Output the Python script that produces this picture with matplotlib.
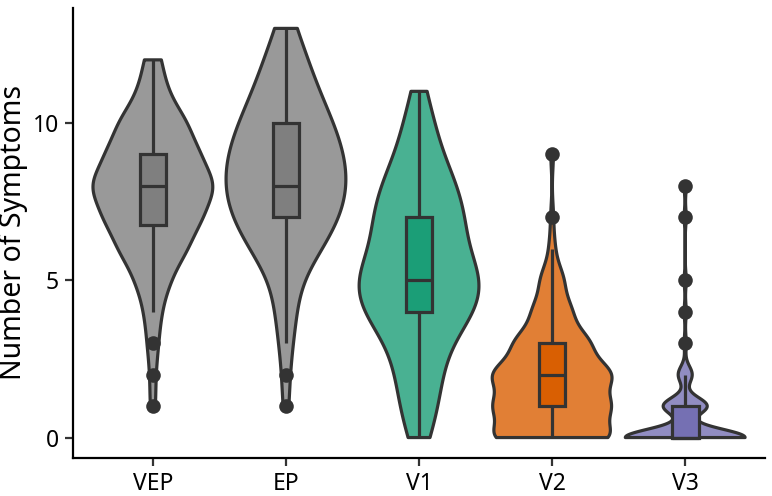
import numpy as np
import matplotlib
matplotlib.use("Agg")
import matplotlib.pyplot as plt

plt.rcParams['font.family'] = ['Noto Sans', 'DejaVu Sans']

# ---- data: number of subjects reporting each symptom count ----
symptom_values = list(range(14))
categories = ["VEP", "EP", "V1", "V2", "V3"]
VEP_counts = [0, 1, 1, 2, 3, 6, 12, 17, 22, 16, 12, 5, 3, 0]
EP_counts = [0, 1, 1, 2, 3, 4, 10, 15, 17, 16, 13, 9, 6, 3]
V1_counts = [3, 5, 6, 8, 15, 17, 12, 12, 10, 6, 4, 2, 0, 0]
V2_counts = [40, 38, 40, 25, 13, 8, 2, 1, 0, 1, 0, 0, 0, 0]
V3_counts = [60, 22, 7, 1, 1, 1, 0, 1, 1, 0, 0, 0, 0, 0]
group_counts = [VEP_counts, EP_counts, V1_counts, V2_counts, V3_counts]
box_colors = ["#7F7F7F", "#7F7F7F", "#1B9E77", "#D95F02", "#7570B3"]
y_ticks = [0, 5, 10]
y_label = "Number of Symptoms"

OUT = "#333333"
LW = 2.3


def bw_nrd0(x):
    hi = np.std(x, ddof=1)
    q75, q25 = np.percentile(x, [75, 25])
    lo = min(hi, (q75 - q25) / 1.34)
    if lo == 0:
        lo = hi if hi > 0 else 1.0
    return 0.9 * lo * len(x) ** (-0.2)


def kde(x, grid, bw):
    z = (grid[:, None] - x[None, :]) / bw
    return np.exp(-0.5 * z ** 2).sum(axis=1) / (len(x) * bw * np.sqrt(2 * np.pi))


def blend(hexcol, alpha=0.8):
    c = np.array(matplotlib.colors.to_rgb(hexcol))
    return tuple(alpha * c + (1 - alpha))


fig = plt.figure(figsize=(7.72, 4.96), dpi=100)
ax = fig.add_axes([0.0946, 0.0766, 0.8964, 0.9074])

for i, (counts, col) in enumerate(zip(group_counts, box_colors)):
    pos = i + 1
    data = np.repeat(symptom_values, counts).astype(float)
    bw = bw_nrd0(data)
    grid = np.linspace(data.min(), data.max(), 512)
    dens = kde(data, grid, bw)
    half = dens / dens.max() * 0.45
    xs = np.concatenate([pos - half, (pos + half)[::-1]])
    ys = np.concatenate([grid, grid[::-1]])
    ax.fill(xs, ys, facecolor=blend(col), edgecolor=OUT, linewidth=LW,
            joinstyle='round', zorder=2)

    q1, med, q3 = np.percentile(data, [25, 50, 75])
    iqr = q3 - q1
    lo_w = data[data >= q1 - 1.5 * iqr].min()
    hi_w = data[data <= q3 + 1.5 * iqr].max()
    outl = np.unique(data[(data < q1 - 1.5 * iqr) | (data > q3 + 1.5 * iqr)])
    ax.plot(np.full(len(outl), pos), outl, 'o', color=OUT, markersize=10.5,
            markeredgewidth=0, zorder=3)
    ax.plot([pos, pos], [q3, hi_w], color=OUT, lw=LW, solid_capstyle='butt', zorder=4)
    ax.plot([pos, pos], [lo_w, q1], color=OUT, lw=LW, solid_capstyle='butt', zorder=4)
    rect = matplotlib.patches.Rectangle((pos - 0.1, q1), 0.2, q3 - q1,
                                        facecolor=col, edgecolor=OUT, linewidth=LW,
                                        zorder=5)
    ax.add_patch(rect)
    ax.plot([pos - 0.1, pos + 0.1], [med, med], color=OUT, lw=LW,
            solid_capstyle='butt', zorder=6)

ax.set_xlim(0.4, 5.6)
ax.set_ylim(-0.65, 13.65)
ax.set_xticks(range(1, len(categories) + 1))
ax.set_xticklabels(categories)
ax.set_yticks(y_ticks)
ax.set_ylabel(y_label, fontsize=20.5, color="black", labelpad=3.5)
for s in ["top", "right"]:
    ax.spines[s].set_visible(False)
for s in ["left", "bottom"]:
    ax.spines[s].set_linewidth(1.6)
    ax.spines[s].set_color("black")
ax.tick_params(axis='both', length=6, width=1.6, color="#333333",
               labelsize=16.5, labelcolor="black", pad=4)

fig.savefig("out.png", dpi=100)
